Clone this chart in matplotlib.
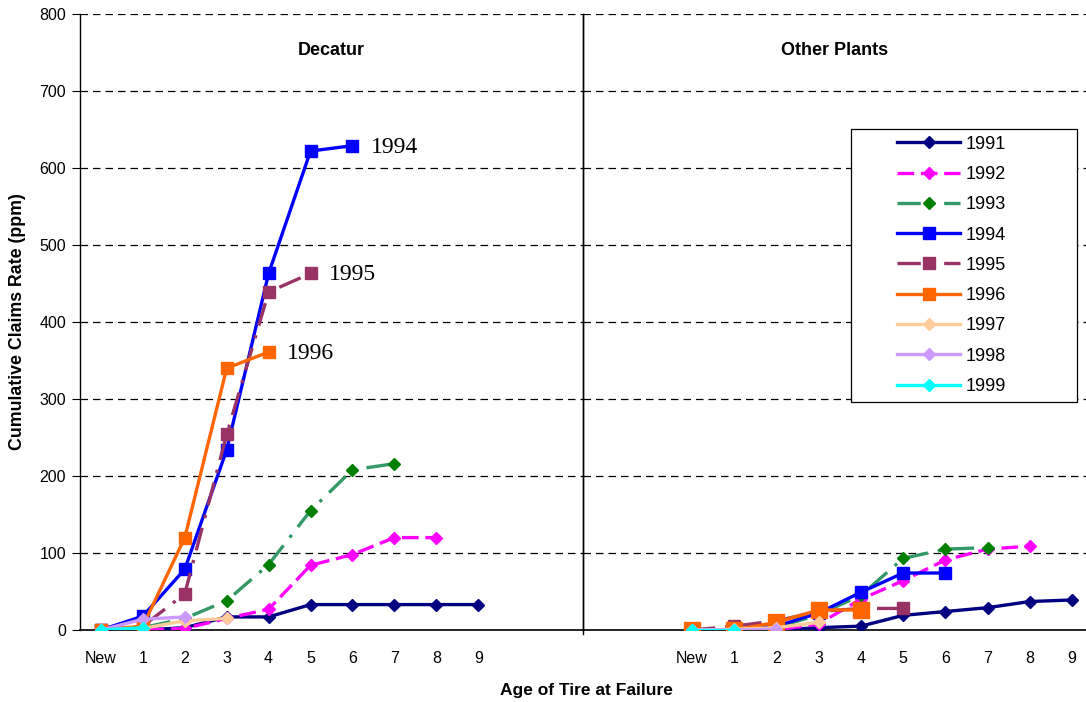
import numpy as np
import matplotlib
matplotlib.use("Agg")
import matplotlib.pyplot as plt
from matplotlib.patches import Rectangle

plt.rcParams['font.family'] = ['Liberation Sans', 'DejaVu Sans']

ages = ["New", "1", "2", "3", "4", "5", "6", "7", "8", "9"]
years = ["1991", "1992", "1993", "1994", "1995", "1996", "1997", "1998", "1999"]

# cumulative claims rate (ppm) by age, Decatur plant
decatur = {
    "1991": [0, 0, 3, 17, 17, 33, 33, 33, 33, 33],
    "1992": [0, 0, 2, 15, 27, 84, 98, 120, 120],
    "1993": [0, 3, 15, 38, 85, 155, 208, 216],
    "1994": [0, 18, 79, 234, 463, 622, 629],
    "1995": [0, 5, 47, 254, 439, 463],
    "1996": [0, 5, 120, 340, 361],
    "1997": [0, 2, 12, 15],
    "1998": [0, 14, 17],
    "1999": [0, 3],
}

# other plants
others = {
    "1991": [0, 0, 0, 3, 5, 19, 24, 29, 37, 39],
    "1992": [0, 0, 0, 8, 40, 64, 91, 105, 109],
    "1993": [0, 0, 3, 20, 45, 93, 105, 107],
    "1994": [0, 0, 5, 22, 49, 74, 74],
    "1995": [0, 5, 12, 24, 28, 28],
    "1996": [0, 0, 10, 26, 26],
    "1997": [0, 1, 3, 10],
    "1998": [0, 0, 1],
    "1999": [0, 0],
}

labelled = ["1994", "1995", "1996"]

styles = {
    "1991": dict(color="#000080", mfc="#000080", marker="D", ls="-"),
    "1992": dict(color="#FF00FF", mfc="#FF00FF", marker="D", ls=(0, (5, 2))),
    "1993": dict(color="#339966", mfc="#008000", marker="D", ls=(0, (7, 3, 1, 3))),
    "1994": dict(color="#0000FF", mfc="#0000FF", marker="s", ls="-"),
    "1995": dict(color="#993366", mfc="#993366", marker="s", ls=(0, (7, 3, 1, 3))),
    "1996": dict(color="#FF6600", mfc="#FF6600", marker="s", ls="-"),
    "1997": dict(color="#FFCC99", mfc="#FFCC99", marker="D", ls="-"),
    "1998": dict(color="#CC99FF", mfc="#CC99FF", marker="D", ls="-"),
    "1999": dict(color="#00FFFF", mfc="#00FFFF", marker="D", ls="-"),
}

fig = plt.figure(figsize=(10.86, 7.02), dpi=100)
W, H = 1086, 702
bot = (H - 630) / H
hgt = 616 / H
ax1 = fig.add_axes([80 / W, bot, (583 - 80) / W, hgt])
ax2 = fig.add_axes([583 / W, bot, (1086 - 583) / W, hgt])

handles = []
for ax, data, big in [(ax1, decatur, False), (ax2, others, True)]:
    for yr in years:
        vals = data[yr]
        st = styles[yr]
        ms = 8 if st["marker"] == "s" else 6.2
        if big and yr == "1996":
            ms = 11
        ln, = ax.plot(np.arange(len(vals)), vals, color=st["color"], ls=st["ls"],
                      lw=2.4, marker=st["marker"], ms=ms, mfc=st["mfc"],
                      mec=st["mfc"], zorder=3, label=yr)
        if ax is ax1:
            handles.append(ln)
        if ax is ax1 and yr in labelled:
            ax.annotate(yr, (len(vals) - 1, vals[-1]), xytext=(13, -1),
                        textcoords="offset points", va="center", ha="left",
                        fontsize=17, family="Liberation Serif")

    ax.set_ylim(0, 800)
    ax.set_yticks(np.arange(0, 801, 100))
    ax.set_xticks(np.arange(len(ages)))
    ax.set_xticklabels(ages)
    ax.tick_params(axis="x", length=0, pad=15, labelsize=11.5)
    ax.grid(axis="y", color="black", ls=(0, (6, 4)), lw=0.9)
    ax.set_axisbelow(True)
    for s in ["top", "right"]:
        ax.spines[s].set_visible(False)
    ax.spines["bottom"].set_linewidth(1.2)
    ax.spines["left"].set_linewidth(1.0)

ax1.set_xlim(-0.5, 11.5)
ax2.set_xlim(-2.58, 9.33)
ax1.tick_params(axis="y", direction="out", length=6, labelsize=11.5, pad=4)
ax2.tick_params(axis="y", length=0, labelleft=False)
ax2.plot([0, 0], [-0.006, 1.0], transform=ax2.transAxes, color="black",
         lw=1.0, clip_on=False)

ax1.text(0.5, 0.94, "Decatur", transform=ax1.transAxes, ha="center",
         va="center", fontsize=13, fontweight="bold")
ax2.text(0.5, 0.94, "Other Plants", transform=ax2.transAxes, ha="center",
         va="center", fontsize=13, fontweight="bold")

fig.text(18 / W, (H - 322) / H, "Cumulative Claims Rate (ppm)", rotation=90,
         ha="center", va="center", fontsize=12.8, fontweight="bold")
fig.text(586 / W, (H - 690) / H, "Age of Tire at Failure", ha="center",
         va="center", fontsize=12.5, fontweight="bold")

# legend box drawn separately so it can be wider than its contents
fig.patches.append(Rectangle((851 / W, 1 - 402 / H), 226 / W, 273 / H,
                             transform=fig.transFigure, facecolor="white",
                             edgecolor="black", lw=0.9, zorder=4))
leg = fig.legend(handles=handles, loc="upper left",
                 bbox_to_anchor=(890 / W, 1 - 128.5 / H), fontsize=13,
                 frameon=False, handlelength=3.5, handletextpad=0.28,
                 labelspacing=0.735, borderpad=0.4, borderaxespad=0)
leg.set_zorder(5)

fig.savefig("out.png", dpi=100)
